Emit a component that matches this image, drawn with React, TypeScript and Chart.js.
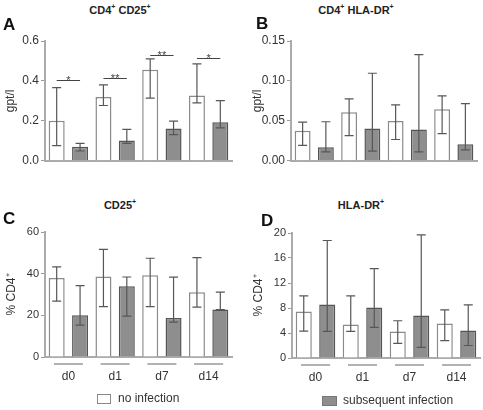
import React, { useEffect, useRef } from 'react';
import { Chart, registerables } from 'chart.js';

Chart.register(...registerables);

const FONT = 'Liberation Sans, Arial, Helvetica, sans-serif';
Chart.defaults.font.family = FONT;

// ---------- data ----------
const categories = ['d0', 'd1', 'd7', 'd14'];
const seriesNames = ['no infection', 'subsequent infection'];

// Panel A: CD4+ CD25+ (gpt/l)
const aNoInf = [0.2, 0.319, 0.456, 0.327];
const aNoInfLow = [0.076, 0.277, 0.314, 0.29];
const aNoInfHigh = [0.366, 0.38, 0.51, 0.485];
const aSub = [0.07, 0.102, 0.162, 0.193];
const aSubLow = [0.049, 0.087, 0.131, 0.165];
const aSubHigh = [0.087, 0.157, 0.199, 0.301];
const aTicks = [0, 0.2, 0.4, 0.6];
const aTickLabels = ['0.0', '0.2', '0.4', '0.6'];
const aSigLevels = [0.405, 0.417, 0.53, 0.515];
const aSigLabels = ['*', '**', '**', '*'];

// Panel B: CD4+ HLA-DR+ (gpt/l)
const bNoInf = [0.0376, 0.0607, 0.0497, 0.0647];
const bNoInfLow = [0.0194, 0.0315, 0.0267, 0.034];
const bNoInfHigh = [0.0485, 0.0776, 0.07, 0.0813];
const bSub = [0.017, 0.0404, 0.0392, 0.0206];
const bSubLow = [0.0111, 0.0121, 0.0111, 0.0137];
const bSubHigh = [0.0489, 0.1096, 0.133, 0.0716];
const bTicks = [0, 0.05, 0.1, 0.15];
const bTickLabels = ['0.00', '0.05', '0.10', '0.15'];

// Panel C: CD25+ (% CD4+)
const cNoInf = [37.9, 38.6, 39.2, 31.1];
const cNoInfLow = [26.8, 24.2, 24.2, 23.9];
const cNoInfHigh = [43.3, 51.7, 47.4, 47.7];
const cSub = [20.0, 34.0, 18.7, 22.8];
const cSubLow = [15.3, 19.6, 16.7, 22.8];
const cSubHigh = [34.3, 38.4, 38.3, 31.1];
const cTicks = [0, 20, 40, 60];
const cTickLabels = ['0', '20', '40', '60'];

// Panel D: HLA-DR+ (% CD4+)
const dNoInf = [7.45, 5.37, 4.26, 5.53];
const dNoInfLow = [4.3, 4.26, 2.34, 2.77];
const dNoInfHigh = [9.95, 9.95, 5.96, 7.7];
const dSub = [8.56, 8.1, 6.8, 4.41];
const dSubLow = [4.26, 4.9, 1.7, 2.0];
const dSubHigh = [18.8, 14.3, 19.7, 8.5];
const dTicks = [0, 4, 8, 12, 16, 20];
const dTickLabels = ['0', '4', '8', '12', '16', '20'];

// ---------- styling ----------
const WHITE_FILL = '#ffffff';
const WHITE_BORDER = '#8a8a8a';
const GREY_FILL = '#8e8e8e';
const GREY_BORDER = '#555555';
const AXIS_COLOR = '#ababab';
const ERR_COLOR = '#575757';
const TEXT_COLOR = '#333333';

type PanelCfg = {
  left: number; top: number; width: number; height: number;
  area: { l: number; t: number; r: number; b: number };
  yMax: number; ticks: number[]; tickLabels: string[]; tickSize: number;
  yTitle: string; yTitlePad: number;
  noInf: number[]; noInfLow: number[]; noInfHigh: number[];
  sub: number[]; subLow: number[]; subHigh: number[];
  showX: boolean;
  sigLevels?: number[]; sigLabels?: string[];
};

function Panel({ cfg }: { cfg: PanelCfg }) {
  const ref = useRef<HTMLCanvasElement | null>(null);
  useEffect(() => {
    if (!ref.current) return;
    const lows = [cfg.noInfLow, cfg.subLow];
    const highs = [cfg.noInfHigh, cfg.subHigh];
    const extras = {
      id: 'extras',
      afterDatasetsDraw(chart: any) {
        const ctx = chart.ctx;
        const ys = chart.scales.y;
        const xs = chart.scales.x;
        ctx.save();
        // error bars
        ctx.strokeStyle = ERR_COLOR;
        ctx.lineWidth = 1.2;
        for (let d = 0; d < 2; d++) {
          const meta = chart.getDatasetMeta(d);
          meta.data.forEach((el: any, i: number) => {
            const x = el.x;
            const y1 = ys.getPixelForValue(lows[d][i]);
            const y2 = ys.getPixelForValue(highs[d][i]);
            ctx.beginPath();
            ctx.moveTo(x, y1); ctx.lineTo(x, y2);
            ctx.moveTo(x - 4.5, y1); ctx.lineTo(x + 4.5, y1);
            ctx.moveTo(x - 4.5, y2); ctx.lineTo(x + 4.5, y2);
            ctx.stroke();
          });
        }
        // significance markers
        if (cfg.sigLevels && cfg.sigLabels) {
          const m0 = chart.getDatasetMeta(0);
          const m1 = chart.getDatasetMeta(1);
          ctx.strokeStyle = '#444';
          ctx.lineWidth = 1;
          ctx.fillStyle = '#444';
          ctx.font = `11px ${FONT}`;
          ctx.textAlign = 'center';
          ctx.textBaseline = 'alphabetic';
          cfg.sigLevels.forEach((v, i) => {
            const xa = m0.data[i].x;
            const xb = m1.data[i].x;
            const y = Math.round(ys.getPixelForValue(v)) + 0.5;
            ctx.beginPath();
            ctx.moveTo(xa, y); ctx.lineTo(xb, y);
            ctx.stroke();
            ctx.fillText(cfg.sigLabels![i], (xa + xb) / 2, y + 3.5);
          });
        }
        // category underlines
        if (cfg.showX) {
          ctx.strokeStyle = '#999';
          ctx.lineWidth = 1.5;
          const y = chart.chartArea.bottom + 7;
          categories.forEach((_, i) => {
            const cx = xs.getPixelForValue(i);
            ctx.beginPath();
            ctx.moveTo(cx - 14.5, y); ctx.lineTo(cx + 14.5, y);
            ctx.stroke();
          });
        }
        ctx.restore();
      },
    };
    const chart = new Chart(ref.current, {
      type: 'bar',
      data: {
        labels: categories,
        datasets: [
          {
            label: seriesNames[0], data: cfg.noInf,
            backgroundColor: WHITE_FILL, borderColor: WHITE_BORDER, borderWidth: 1.5,
            barPercentage: 0.684, categoryPercentage: 1.0,
          },
          {
            label: seriesNames[1], data: cfg.sub,
            backgroundColor: GREY_FILL, borderColor: GREY_BORDER, borderWidth: 1.5,
            barPercentage: 0.684, categoryPercentage: 1.0,
          },
        ],
      },
      options: {
        animation: false,
        responsive: false,
        maintainAspectRatio: false,
        devicePixelRatio: 1,
        layout: {
          padding: {
            top: cfg.area.t - cfg.top,
            right: cfg.left + cfg.width - cfg.area.r,
            left: 0,
            bottom: 0,
          },
        },
        plugins: {
          legend: { display: false },
          tooltip: { enabled: false },
          title: { display: false },
        },
        scales: {
          x: {
            type: 'category',
            offset: true,
            grid: { display: false, drawTicks: false },
            border: { display: true, color: AXIS_COLOR, width: 2 },
            ticks: {
              display: cfg.showX,
              color: TEXT_COLOR,
              font: { family: FONT, size: 12 },
              padding: 12,
            },
            afterFit: (s: any) => { s.height = cfg.top + cfg.height - cfg.area.b; },
          },
          y: {
            min: 0,
            max: cfg.yMax,
            afterBuildTicks: (s: any) => { s.ticks = cfg.ticks.map((v) => ({ value: v })); },
            ticks: {
              callback: (_v: any, i: number) => cfg.tickLabels[i],
              color: TEXT_COLOR,
              font: { family: FONT, size: cfg.tickSize },
              padding: 2,
            },
            grid: { drawOnChartArea: false, drawTicks: true, tickLength: 4, color: '#999', lineWidth: 1 },
            border: { display: true, color: AXIS_COLOR, width: 2 },
            title: {
              display: true,
              text: cfg.yTitle,
              color: TEXT_COLOR,
              font: { family: FONT, size: 12 },
              padding: { top: cfg.yTitlePad, bottom: 0 },
            },
            afterFit: (s: any) => { s.width = cfg.area.l - cfg.left; },
          },
        },
      },
      plugins: [extras],
    } as any);
    return () => chart.destroy();
  }, [cfg]);
  return (
    <canvas
      ref={ref}
      width={cfg.width}
      height={cfg.height}
      style={{ position: 'absolute', left: cfg.left, top: cfg.top, width: cfg.width, height: cfg.height }}
    />
  );
}

const panels: PanelCfg[] = [
  {
    left: 0, top: 30, width: 240, height: 140, area: { l: 45, t: 41, r: 232, b: 164 },
    yMax: 0.6, ticks: aTicks, tickLabels: aTickLabels, tickSize: 12, yTitle: 'gpt/l', yTitlePad: 3.5,
    noInf: aNoInf, noInfLow: aNoInfLow, noInfHigh: aNoInfHigh,
    sub: aSub, subLow: aSubLow, subHigh: aSubHigh, showX: false,
    sigLevels: aSigLevels, sigLabels: aSigLabels,
  },
  {
    left: 240, top: 30, width: 243, height: 140, area: { l: 291, t: 41, r: 477, b: 164 },
    yMax: 0.15, ticks: bTicks, tickLabels: bTickLabels, tickSize: 12, yTitle: 'gpt/l', yTitlePad: 10,
    noInf: bNoInf, noInfLow: bNoInfLow, noInfHigh: bNoInfHigh,
    sub: bSub, subLow: bSubLow, subHigh: bSubHigh, showX: false,
  },
  {
    left: 0, top: 222, width: 240, height: 170, area: { l: 45, t: 232, r: 232, b: 357 },
    yMax: 60, ticks: cTicks, tickLabels: cTickLabels, tickSize: 11, yTitle: '% CD4\u207A', yTitlePad: 4,
    noInf: cNoInf, noInfLow: cNoInfLow, noInfHigh: cNoInfHigh,
    sub: cSub, subLow: cSubLow, subHigh: cSubHigh, showX: true,
  },
  {
    left: 240, top: 222, width: 243, height: 170, area: { l: 292, t: 233, r: 480, b: 358 },
    yMax: 20, ticks: dTicks, tickLabels: dTickLabels, tickSize: 11, yTitle: '% CD4\u207A', yTitlePad: 11,
    noInf: dNoInf, noInfLow: dNoInfLow, noInfHigh: dNoInfHigh,
    sub: dSub, subLow: dSubLow, subHigh: dSubHigh, showX: true,
  },
];

const supStyle: React.CSSProperties = { fontSize: '7px', lineHeight: 0, verticalAlign: 'super' };

function Title({ x, y, children }: { x: number; y: number; children: React.ReactNode }) {
  return (
    <div style={{
      position: 'absolute', left: x - 100, top: y - 8, width: 200, height: 16, lineHeight: '16px',
      textAlign: 'center', fontWeight: 'bold', fontSize: '11px', color: '#222', whiteSpace: 'nowrap',
    }}>{children}</div>
  );
}

function Letter({ x, y, text }: { x: number; y: number; text: string }) {
  return (
    <div style={{
      position: 'absolute', left: x, top: y - 10, height: 20, lineHeight: '20px',
      fontWeight: 'bold', fontSize: '17px', color: '#111',
    }}>{text}</div>
  );
}

export default function App() {
  return (
    <div style={{
      position: 'absolute', left: 0, top: 0, width: 483, height: 410, background: '#fff',
      fontFamily: FONT, overflow: 'hidden',
    }}>
      {panels.map((p, i) => <Panel key={i} cfg={p} />)}
      <Title x={120} y={10}>CD4<sup style={supStyle}>+</sup> CD25<sup style={supStyle}>+</sup></Title>
      <Title x={356} y={10}>CD4<sup style={supStyle}>+</sup> HLA-DR<sup style={supStyle}>+</sup></Title>
      <Title x={120} y={205}>CD25<sup style={supStyle}>+</sup></Title>
      <Title x={361} y={205}>HLA-DR<sup style={supStyle}>+</sup></Title>
      <Letter x={3} y={25} text="A" />
      <Letter x={256} y={24} text="B" />
      <Letter x={3} y={219} text="C" />
      <Letter x={261} y={221} text="D" />
      {/* legend */}
      <div style={{ position: 'absolute', left: 97, top: 394, width: 12, height: 8, border: '1px solid #888', background: WHITE_FILL }} />
      <div style={{ position: 'absolute', left: 118, top: 390, height: 16, lineHeight: '16px', fontSize: '12px', color: TEXT_COLOR, whiteSpace: 'nowrap' }}>{seriesNames[0]}</div>
      <div style={{ position: 'absolute', left: 322, top: 396, width: 13, height: 8, border: '1px solid #777', background: GREY_FILL }} />
      <div style={{ position: 'absolute', left: 343, top: 392, height: 16, lineHeight: '16px', fontSize: '12px', color: TEXT_COLOR, whiteSpace: 'nowrap' }}>{seriesNames[1]}</div>
    </div>
  );
}
